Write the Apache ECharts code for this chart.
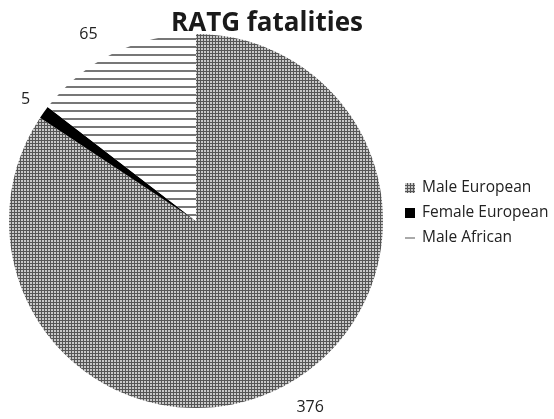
<!DOCTYPE html>
<html>
<head>
<meta charset="utf-8">
<script src="https://cdn.jsdelivr.net/npm/echarts@6/dist/echarts.min.js"></script>
<style>
  html, body { margin: 0; padding: 0; background: #fff; }
  #chart { width: 554px; height: 419px; }
</style>
</head>
<body>
<div id="chart"></div>
<script>
var categories = ['Male European', 'Female European', 'Male African'];
var values = [376, 5, 65];

// dotted texture for Male European
function dotPattern() {
    var c = document.createElement('canvas');
    c.width = 3; c.height = 3;
    var ctx = c.getContext('2d');
    ctx.fillStyle = '#555555';
    ctx.fillRect(0, 0, 3, 3);
    ctx.fillStyle = '#c8c8c8';
    ctx.fillRect(0, 0, 2, 2);
    return c;
}
// horizontal stripes for Male African
function stripePattern() {
    var c = document.createElement('canvas');
    c.width = 8; c.height = 8;
    var ctx = c.getContext('2d');
    ctx.fillStyle = '#ffffff';
    ctx.fillRect(0, 0, 8, 8);
    ctx.fillStyle = '#777777';
    ctx.fillRect(0, 6, 8, 2);
    return c;
}

var fills = [
    { image: dotPattern(), repeat: 'repeat' },
    '#000000',
    { image: stripePattern(), repeat: 'repeat' }
];
// label placement tweaks (line lengths + small nudges)
var lineLen = [[23, 0], [24, 0], [31, 0]];
var nudge = [[0, 1], [7, 1], [-1, 9]];

var myChart = echarts.init(document.getElementById('chart'));
myChart.setOption({
    animation: false,
    title: {
        text: 'RATG fatalities',
        left: 262, top: 6,
        textAlign: 'center',
        textStyle: { fontFamily: 'Open Sans', fontWeight: 'bold', fontSize: 26, color: '#1a1a1a' }
    },
    legend: {
        orient: 'vertical',
        left: 400, top: 175,
        itemWidth: 10, itemHeight: 10,
        itemGap: 9,
        textStyle: { fontFamily: 'Open Sans', fontSize: 15.5, color: '#222', padding: [0, 0, 0, 2] },
        data: [
            { name: categories[0], icon: 'rect' },
            { name: categories[1], icon: 'rect' },
            { name: categories[2], icon: 'path://M0,4.5 L10,4.5 L10,5.5 L0,5.5 Z', itemStyle: { color: '#555' } }
        ]
    },
    series: [{
        type: 'pie',
        center: [196, 221],
        radius: 187,
        startAngle: 90,
        clockwise: true,
        avoidLabelOverlap: false,
        label: {
            show: true,
            position: 'outside',
            formatter: '{c}',
            fontFamily: 'Open Sans',
            fontSize: 16,
            color: '#222',
            distanceToLabelLine: 1
        },
        labelLine: { show: false },
        labelLayout: function (params) {
            return { dx: nudge[params.dataIndex][0], dy: nudge[params.dataIndex][1] };
        },
        itemStyle: { borderWidth: 0 },
        emphasis: { disabled: true },
        data: categories.map(function (name, i) {
            return {
                name: name,
                value: values[i],
                itemStyle: { color: fills[i] },
                labelLine: { show: false, length: lineLen[i][0], length2: lineLen[i][1] }
            };
        })
    }]
});
</script>
</body>
</html>
